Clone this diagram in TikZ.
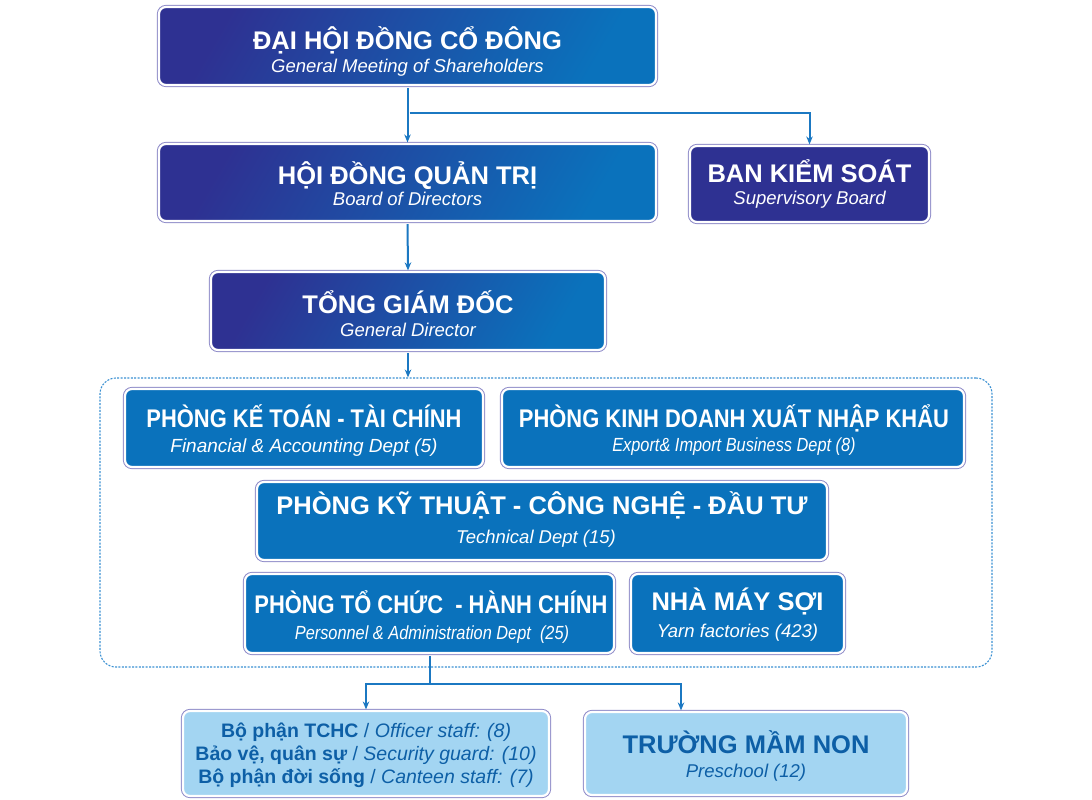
\documentclass[tikz,border=0pt]{standalone}
\usepackage{fontspec}
\setmainfont{Liberation Sans}
\newfontfamily\narrowfont[FakeStretch=0.86]{Liberation Sans}
\usetikzlibrary{arrows.meta}

\definecolor{navy}{HTML}{2E3192}
\definecolor{midblue}{HTML}{0A72BC}
\definecolor{lightblue}{HTML}{A3D5F2}
\definecolor{lav}{HTML}{8F8CC9}
\definecolor{inkblue}{HTML}{0D5FA6}
\definecolor{linecol}{HTML}{1B78C2}
\definecolor{dotcol}{HTML}{3A90D2}

\tikzset{
	box/.style={rounded corners=7pt, draw=white, line width=2.2pt,
		preaction={draw=lav, line width=4.2pt}, inner sep=0pt},
	darkbox/.style={box, shade, top color=navy, bottom color=midblue, shading angle=60},
	navybox/.style={box, fill=navy},
	deptbox/.style={box, fill=midblue},
	lightbox/.style={box, fill=lightblue},
	groupbox/.style={draw=dotcol, line width=1.1pt, dash pattern=on 2pt off 1.4pt,
		rounded corners=16pt, inner sep=0pt},
	ttl/.style={font=\fontsize{25.5}{26}\selectfont\bfseries, text=white,
		anchor=base, inner sep=0pt},
	nttl/.style={ttl, font=\fontsize{25.5}{26}\selectfont\narrowfont\bfseries},
	sub/.style={font=\fontsize{18.5}{20}\selectfont\itshape, text=white,
		anchor=base, inner sep=0pt},
	nsub/.style={sub, font=\fontsize{19}{20}\selectfont\narrowfont\itshape},
	lttl/.style={ttl, text=inkblue},
	lsub/.style={sub, text=inkblue},
	line/.style={font=\fontsize{19.5}{20}\selectfont, text=inkblue,
		anchor=base, inner sep=0pt},
	conn/.style={draw=linecol, line width=2pt, shorten <=2pt, shorten >=0.5pt,
		-{Stealth[length=8pt,width=6.5pt]}},
	link/.style={draw=linecol, line width=2pt}
}

\begin{document}
\begin{tikzpicture}[x=1pt, y=-1pt]
		\useasboundingbox (0, 0) rectangle (1092, 800);

		% top of the chart
		\node[darkbox, minimum width=497pt, minimum height=78pt] (gm) at (407.5, 46) {};
		\node[darkbox, minimum width=497pt, minimum height=77pt] (hdqt) at (407.5, 182.5) {};
		\node[navybox, minimum width=239pt, minimum height=76pt] (bks) at (809.5, 184) {};
		\node[darkbox, minimum width=394pt, minimum height=78pt] (tgd) at (408, 311) {};

		\node[ttl] (gmt) at (407.5, 50) {ĐẠI HỘI ĐỒNG CỔ ĐÔNG};
		\node[sub] (gms) at (407.5, 73) {General Meeting of Shareholders};
		\node[ttl] (hdqtt) at (407.5, 184) {HỘI ĐỒNG QUẢN TRỊ};
		\node[sub] (hdqts) at (407.5, 205) {Board of Directors};
		\node[ttl] (bkst) at (809.5, 182) {BAN KIỂM SOÁT};
		\node[sub] (bkss) at (809.5, 204) {Supervisory Board};
		\node[ttl] (tgdt) at (408, 313) {TỔNG GIÁM ĐỐC};
		\node[sub] (tgds) at (408, 336) {General Director};

		% departments
		\node[groupbox, minimum width=892pt, minimum height=289pt] (grp) at (546, 522.5) {};

		\node[deptbox, minimum width=358pt, minimum height=78pt] (pkt) at (304, 428) {};
		\node[deptbox, minimum width=462pt, minimum height=78pt] (pkd) at (733, 428) {};
		\node[deptbox, minimum width=570pt, minimum height=78pt] (pkth) at (542, 521) {};
		\node[deptbox, minimum width=369pt, minimum height=79pt] (ptc) at (429.5, 613.5) {};
		\node[deptbox, minimum width=213pt, minimum height=79pt] (nms) at (737.5, 613.5) {};

		\node[nttl] (pktt) at (304, 427) {PHÒNG KẾ TOÁN - TÀI CHÍNH};
		\node[sub, font=\fontsize{19}{20}\selectfont\itshape] (pkts) at (304, 452)
			{Financial \& Accounting Dept (5)};
		\node[nttl] (pkdt) at (734, 427) {PHÒNG KINH DOANH XUẤT NHẬP KHẨU};
		\node[nsub] (pkds) at (734, 451) {Export\& Import Business Dept (8)};
		\node[ttl] (pktht) at (542, 514) {PHÒNG KỸ THUẬT - CÔNG NGHỆ - ĐẦU TƯ};
		\node[sub] (pkths) at (536, 543) {Technical Dept (15)};
		\node[nttl] (ptct) at (431, 613) {PHÒNG TỔ CHỨC \ - HÀNH CHÍNH};
		\node[nsub] (ptcs) at (432, 639) {Personnel \& Administration Dept \ (25)};
		\node[ttl] (nmst) at (737.5, 610) {NHÀ MÁY SỢI};
		\node[sub] (nmss) at (737.5, 637) {Yarn factories (423)};

		% bottom row
		\node[lightbox, minimum width=366pt, minimum height=85pt] (bp) at (366, 753.5) {};
		\node[lightbox, minimum width=322pt, minimum height=83pt] (tmn) at (746, 753.5) {};

		\node[line] (bp1) at (366, 737) {\textbf{Bộ phận TCHC} / \textit{Officer staff: (8)}};
		\node[line] (bp2) at (366, 760) {\textbf{Bảo vệ, quân sự} / \textit{Security guard: (10)}};
		\node[line] (bp3) at (366, 783) {\textbf{Bộ phận đời sống} / \textit{Canteen staff: (7)}};
		\node[lttl] (tmnt) at (746, 753) {TRƯỜNG MẦM NON};
		\node[lsub] (tmns) at (746, 777) {Preschool (12)};

		% connectors
		\coordinate (gmsplit) at ([yshift=-27pt]gm.south);
		\coordinate (ptcsplit) at ([yshift=-30pt]ptc.south);

		\draw[conn] (gm.south) -- (hdqt.north);
		\draw[conn] (gmsplit) -| (bks.north);
		\draw[conn] (hdqt.south) -- (tgd.north);
		\draw[conn, shorten >=0pt] (tgd.south) -- (tgd.south |- grp.north);

		\draw[link, shorten <=2pt] (ptc.south) -- (ptcsplit);
		\draw[conn, shorten <=0pt] (ptcsplit) -| (bp.north);
		\draw[conn, shorten <=0pt] (ptcsplit) -| ([xshift=-65pt]tmn.north);
	\end{tikzpicture}
\end{document}
